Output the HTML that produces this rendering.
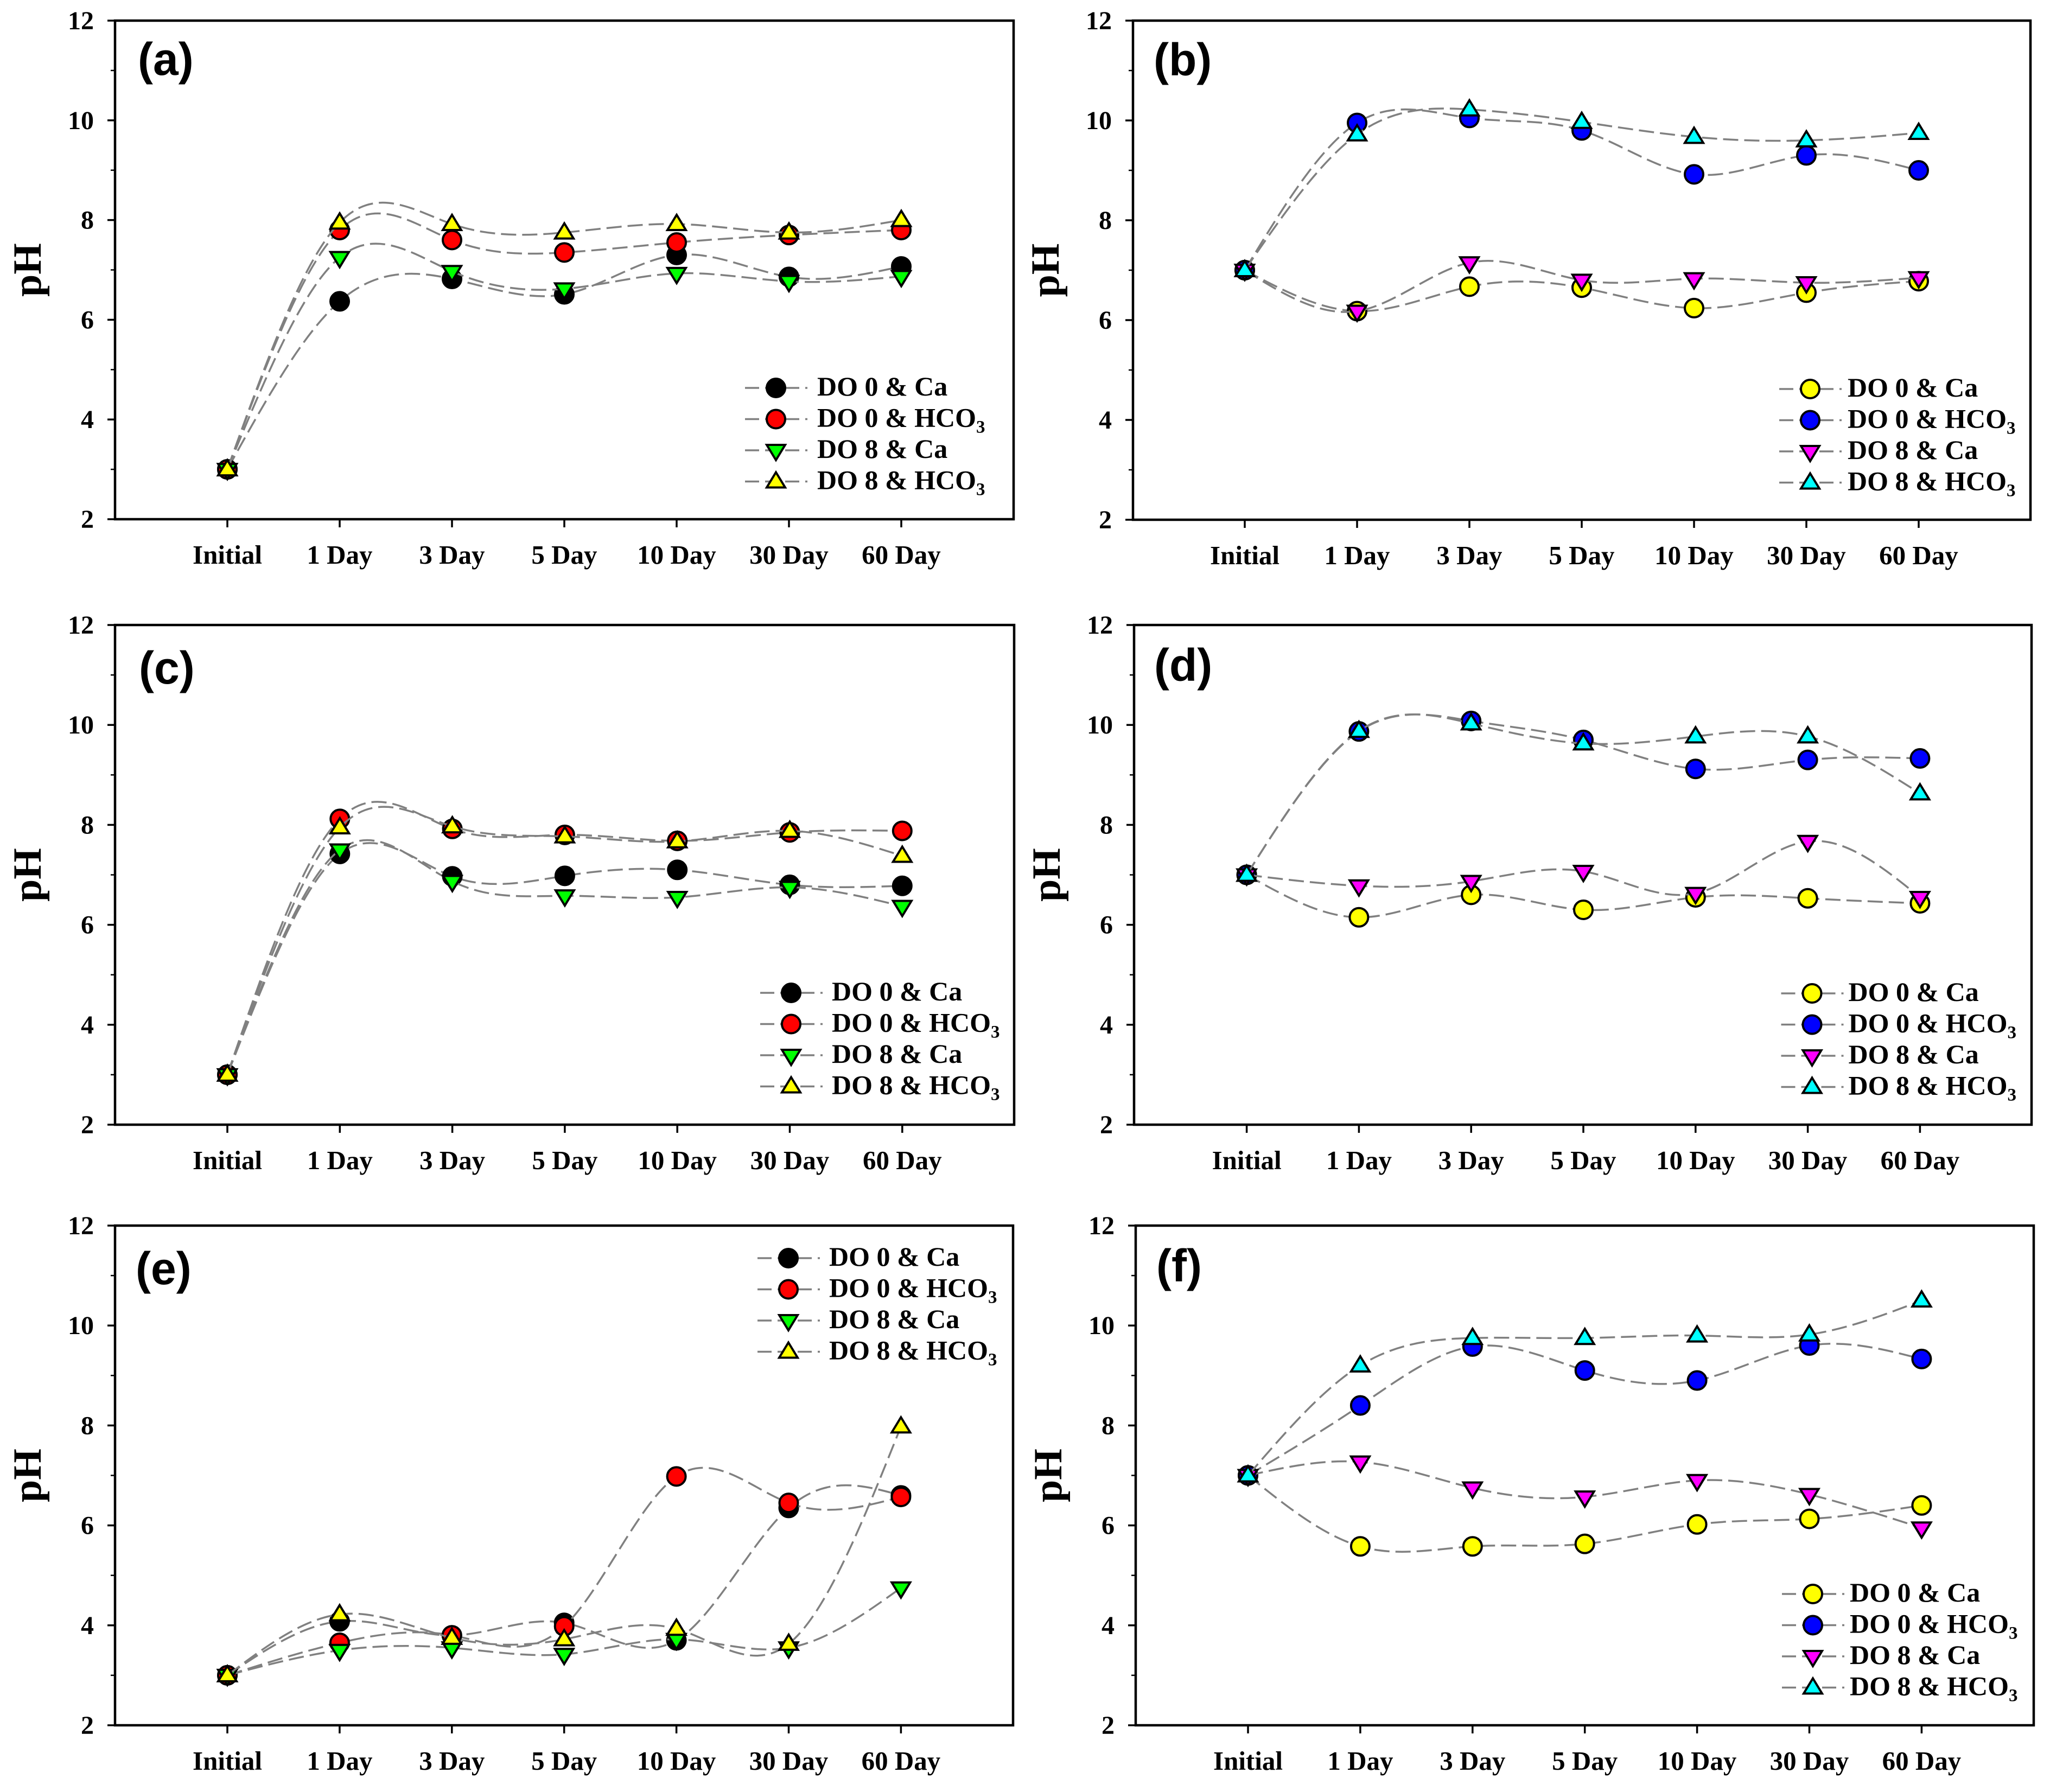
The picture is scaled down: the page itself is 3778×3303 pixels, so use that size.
<!DOCTYPE html>
<html lang="en">
<head>
<meta charset="utf-8">
<title>pH over time – six panels</title>
<style>
html,body{margin:0;padding:0;background:#fff;}
svg{display:block;}
.tick-text{font-family:"Liberation Serif",serif;font-weight:bold;fill:#000;}
.panel-letter{font-family:"Liberation Sans",sans-serif;font-weight:bold;fill:#000;}
</style>
</head>
<body>
<svg id="figure" xmlns="http://www.w3.org/2000/svg" width="3778" height="3303" viewBox="0 0 3778 3303"></svg>
<script>
// ---- shared labels ----
const categories = ["Initial", "1 Day", "3 Day", "5 Day", "10 Day", "30 Day", "60 Day"];
const yTickLabels = [2, 4, 6, 8, 10, 12];
const yMinorTicks = [3, 5, 7, 9, 11];
const seriesLabels = ["DO 0 & Ca", "DO 0 & HCO", "DO 8 & Ca", "DO 8 & HCO"];
const seriesSubscripts = ["", "3", "", "3"];

// ---- panel (a) ----
const aDo0Ca = [3, 6.37, 6.82, 6.51, 7.3, 6.86, 7.07];
const aDo0Hco3 = [3, 7.8, 7.6, 7.35, 7.55, 7.7, 7.8];
const aDo8Ca = [3, 7.25, 6.97, 6.62, 6.93, 6.77, 6.87];
const aDo8Hco3 = [3, 7.95, 7.92, 7.75, 7.92, 7.75, 8.0];
// ---- panel (b) ----
const bDo0Ca = [7, 6.18, 6.67, 6.65, 6.24, 6.55, 6.78];
const bDo0Hco3 = [7, 9.95, 10.05, 9.8, 8.92, 9.3, 9.0];
const bDo8Ca = [7, 6.18, 7.15, 6.8, 6.83, 6.75, 6.85];
const bDo8Hco3 = [7, 9.72, 10.22, 9.97, 9.67, 9.6, 9.75];
// ---- panel (c) ----
const cDo0Ca = [3, 7.42, 6.97, 6.98, 7.1, 6.8, 6.78];
const cDo0Hco3 = [3, 8.12, 7.92, 7.8, 7.68, 7.85, 7.88];
const cDo8Ca = [3, 7.5, 6.87, 6.58, 6.55, 6.75, 6.37];
const cDo8Hco3 = [3, 7.95, 7.97, 7.77, 7.67, 7.88, 7.38];
// ---- panel (d) ----
const dDo0Ca = [7, 6.15, 6.6, 6.3, 6.55, 6.53, 6.43];
const dDo0Hco3 = [7, 9.87, 10.08, 9.7, 9.12, 9.3, 9.33];
const dDo8Ca = [7, 6.78, 6.87, 7.07, 6.63, 7.67, 6.55];
const dDo8Hco3 = [7, 9.88, 10.03, 9.63, 9.77, 9.77, 8.63];
// ---- panel (e) ----
const eDo0Ca = [3, 4.08, 3.8, 4.05, 3.7, 6.35, 6.6];
const eDo0Hco3 = [3, 3.65, 3.8, 3.98, 6.98, 6.45, 6.57];
const eDo8Ca = [3, 3.5, 3.55, 3.42, 3.72, 3.55, 4.75];
const eDo8Hco3 = [3, 4.22, 3.75, 3.72, 3.93, 3.63, 7.98];
// ---- panel (f) ----
const fDo0Ca = [7, 5.58, 5.58, 5.63, 6.02, 6.13, 6.4];
const fDo0Hco3 = [7, 8.4, 9.58, 9.1, 8.9, 9.6, 9.33];
const fDo8Ca = [7, 7.27, 6.75, 6.57, 6.9, 6.62, 5.95];
const fDo8Hco3 = [7, 9.2, 9.75, 9.75, 9.8, 9.82, 10.5];

// ---- layout (separate from data) ----
const warmColors = ["#000000", "#ff0000", "#00ff00", "#ffff00"];
const coolColors = ["#ffff00", "#0000ff", "#ff00ff", "#00ffff"];
const markerShapes = ["circle", "circle", "down", "up"];
const panels = [
  {id:"a", left:212, right:1868, top:38, bottom:957, x0:419, dx:207, legendX:1430, legendY:715, textGap:76, letterX:254, letterY:138, colors:warmColors, series:[aDo0Ca,aDo0Hco3,aDo8Ca,aDo8Hco3]},
  {id:"b", left:2088, right:3742, top:38, bottom:958, x0:2294, dx:207, legendX:3336, legendY:717, textGap:69, letterX:2126, letterY:139, colors:coolColors, series:[bDo0Ca,bDo0Hco3,bDo8Ca,bDo8Hco3]},
  {id:"c", left:212, right:1869, top:1152, bottom:2073, x0:419, dx:207.3, legendX:1458, legendY:1830, textGap:75, letterX:256, letterY:1260, colors:warmColors, series:[cDo0Ca,cDo0Hco3,cDo8Ca,cDo8Hco3]},
  {id:"d", left:2090, right:3744, top:1152, bottom:2073, x0:2297.6, dx:206.8, legendX:3339.5, legendY:1831, textGap:67, letterX:2127, letterY:1255, colors:coolColors, series:[dDo0Ca,dDo0Hco3,dDo8Ca,dDo8Hco3]},
  {id:"e", left:212, right:1867, top:2259, bottom:3180, x0:419, dx:206.9, legendX:1453, legendY:2319, textGap:75, letterX:250, letterY:2367, colors:warmColors, series:[eDo0Ca,eDo0Hco3,eDo8Ca,eDo8Hco3]},
  {id:"f", left:2093, right:3748, top:2259, bottom:3180, x0:2300, dx:206.9, legendX:3341, legendY:2938, textGap:68, letterX:2131, letterY:2362, colors:coolColors, series:[fDo0Ca,fDo0Hco3,fDo8Ca,fDo8Hco3]}
];
const legendStep = 57.5;
const svgNS = "http://www.w3.org/2000/svg";
const figure = document.getElementById("figure");

function make(tag, parent, attrs, text) {
  const node = document.createElementNS(svgNS, tag);
  for (const key in attrs) node.setAttribute(key, attrs[key]);
  if (text !== undefined) node.textContent = text;
  parent.appendChild(node);
  return node;
}

// natural cubic spline through pixel points, emitted as cubic Beziers
function splinePath(xs, ys) {
  const n = xs.length;
  const a = new Array(n).fill(0), b = new Array(n).fill(1), c = new Array(n).fill(0), d = new Array(n).fill(0);
  for (let i = 1; i < n - 1; i++) {
    const h0 = xs[i] - xs[i - 1], h1 = xs[i + 1] - xs[i];
    a[i] = h0; b[i] = 2 * (h0 + h1); c[i] = h1;
    d[i] = 6 * ((ys[i + 1] - ys[i]) / h1 - (ys[i] - ys[i - 1]) / h0);
  }
  for (let i = 1; i < n; i++) {
    const m = a[i] / b[i - 1];
    b[i] -= m * c[i - 1];
    d[i] -= m * d[i - 1];
  }
  const M = new Array(n).fill(0);
  M[n - 1] = d[n - 1] / b[n - 1];
  for (let i = n - 2; i >= 0; i--) M[i] = (d[i] - c[i] * M[i + 1]) / b[i];
  let path = "M" + xs[0].toFixed(2) + " " + ys[0].toFixed(2);
  for (let i = 0; i < n - 1; i++) {
    const h = xs[i + 1] - xs[i];
    const s0 = (ys[i + 1] - ys[i]) / h - h * (2 * M[i] + M[i + 1]) / 6;
    const s1 = (ys[i + 1] - ys[i]) / h + h * (M[i] + 2 * M[i + 1]) / 6;
    path += "C" + (xs[i] + h / 3).toFixed(2) + " " + (ys[i] + s0 * h / 3).toFixed(2) + " " +
      (xs[i + 1] - h / 3).toFixed(2) + " " + (ys[i + 1] - s1 * h / 3).toFixed(2) + " " +
      xs[i + 1].toFixed(2) + " " + ys[i + 1].toFixed(2);
  }
  return path;
}

function drawMarker(parent, shape, cx, cy, fill) {
  const style = {fill: fill, stroke: "#000", "stroke-width": 4, "stroke-linejoin": "miter"};
  let node;
  if (shape === "circle") {
    node = make("circle", parent, Object.assign({cx: cx, cy: cy, r: 17}, style));
  } else if (shape === "up") {
    node = make("polygon", parent, Object.assign({points: cx + "," + (cy - 17) + " " + (cx + 17) + "," + (cy + 11) + " " + (cx - 17) + "," + (cy + 11)}, style));
  } else {
    node = make("polygon", parent, Object.assign({points: cx + "," + (cy + 18) + " " + (cx + 17) + "," + (cy - 10) + " " + (cx - 17) + "," + (cy - 10)}, style));
  }
  return node;
}

panels.forEach(function (p) {
  const yScale = function (v) { return p.bottom - (v - 2) / 10 * (p.bottom - p.top); };
  const xScale = function (i) { return p.x0 + i * p.dx; };

  const panel = make("g", figure, {});
  
  

  const frame = make("rect", panel, {x: p.left, y: p.top, width: p.right - p.left, height: p.bottom - p.top, fill: "none", stroke: "#000", "stroke-width": 4.5});
  
  

  const yAxis = make("g", panel, {});
  
  
  yTickLabels.forEach(function (v) {
    const tick = make("line", yAxis, {x1: p.left - 14, x2: p.left, y1: yScale(v), y2: yScale(v), stroke: "#000", "stroke-width": 3.5});
    
    
    const label = make("text", yAxis, {x: p.left - 39, y: yScale(v) + 16, "text-anchor": "end", "font-size": 48, class: "tick-text"}, String(v));
    
    
  });
  yMinorTicks.forEach(function (v) {
    const minor = make("line", yAxis, {x1: p.left - 8, x2: p.left, y1: yScale(v), y2: yScale(v), stroke: "#000", "stroke-width": 2.5});
    
    
  });

  const yTitle = make("text", panel, {transform: "translate(" + (p.left - 137) + " " + ((p.top + p.bottom) / 2) + ") rotate(-90)", "text-anchor": "middle", "font-size": 74, class: "tick-text"}, "pH");
  
  

  const xAxis = make("g", panel, {});
  
  
  categories.forEach(function (cat, i) {
    const tick = make("line", xAxis, {x1: xScale(i), x2: xScale(i), y1: p.bottom, y2: p.bottom + 15, stroke: "#000", "stroke-width": 3.5});
    
    
    const label = make("text", xAxis, {x: xScale(i), y: p.bottom + 82, "text-anchor": "middle", "font-size": 49, class: "tick-text"}, cat);
    
    
  });

  const letter = make("text", panel, {x: p.letterX, y: p.letterY, "font-size": 84, class: "panel-letter"}, "(" + p.id + ")");
  
  

  p.series.forEach(function (values, s) {
    const group = make("g", panel, {});
    
    
    const xs = values.map(function (v, i) { return xScale(i); });
    const ys = values.map(function (v) { return yScale(v); });
    const curve = make("path", group, {d: splinePath(xs, ys), fill: "none", stroke: "#808080", "stroke-width": 3.5, "stroke-dasharray": "28 11"});
    
    
    values.forEach(function (v, i) {
      const mark = drawMarker(group, markerShapes[s], xScale(i), yScale(v), p.colors[s]);
      
      
    });
  });

  const legend = make("g", panel, {});
  
  
  seriesLabels.forEach(function (name, s) {
    const rowY = p.legendY + s * legendStep;
    const row = make("g", legend, {});
    
    
    const sample = make("line", row, {x1: p.legendX - 57, x2: p.legendX + 58, y1: rowY, y2: rowY, stroke: "#808080", "stroke-width": 3.5, "stroke-dasharray": "26 11"});
    
    
    const swatch = drawMarker(row, markerShapes[s], p.legendX, rowY, p.colors[s]);
    
    
    const label = make("text", row, {x: p.legendX + p.textGap, y: rowY + 14, "font-size": 50, class: "tick-text"}, name);
    
    
    if (seriesSubscripts[s]) {
      make("tspan", label, {dy: 11, "font-size": 33}, seriesSubscripts[s]);
    }
  });
});
</script>
</body>
</html>
